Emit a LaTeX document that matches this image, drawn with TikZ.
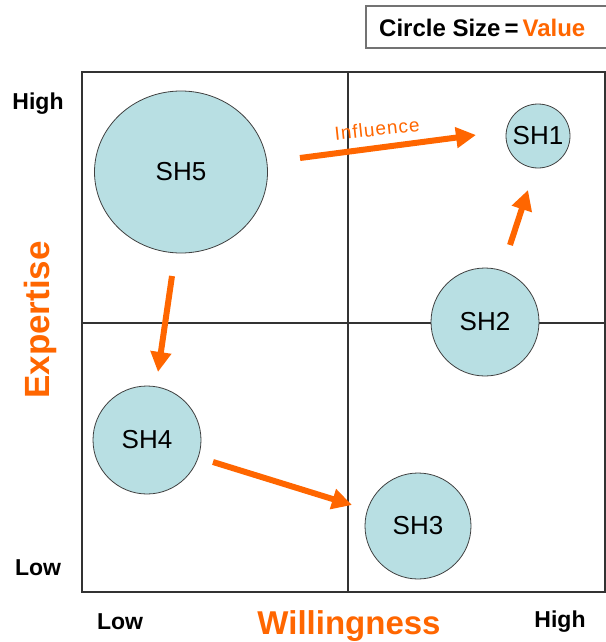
\documentclass[tikz,border=0pt]{standalone}
\usepackage{fontspec}
\setmainfont{Liberation Sans}
\usetikzlibrary{arrows.meta,shapes.geometric}
\definecolor{orng}{RGB}{255,102,0}
\definecolor{bub}{RGB}{184,223,227}
\tikzset{
  bubble/.style={circle,draw=black!75,line width=0.8pt,fill=bub,inner sep=0pt,font=\fontsize{26}{28}\selectfont},
  axislbl/.style={font=\bfseries\fontsize{23}{25}\selectfont},
  axistitle/.style={font=\bfseries\fontsize{33}{35}\selectfont,text=orng},
  arr/.style={draw=orng,line width=6pt,-{Triangle[length=20pt,width=20pt]}},
  frame/.style={draw=black!80,line width=1.2pt}
}
\begin{document}
\begin{tikzpicture}[x=1pt,y=-1pt]
\useasboundingbox (0,0) rectangle (605,642);
% frame
\draw[frame] (82,72) rectangle (605,592);
\draw[frame] (348,72) -- (348,592);
\draw[frame] (82,323) -- (605,323);
% legend
\draw[draw=black!55,line width=1.2pt,fill=white] (366,6) rectangle (610,48);
\node[anchor=west,inner sep=0pt,font=\bfseries\fontsize{24}{26}\selectfont] (legend) at (379,28) {Circle Size\,=\,\textcolor{orng}{Value}};
% bubbles
\node[bubble,ellipse,minimum width=173pt,minimum height=162pt] (sh5) at (181,172) {SH5};
\node[bubble,minimum size=64pt] (sh1) at (538,136) {SH1};
\node[bubble,minimum size=108pt] (sh2) at (485,322) {SH2};
\node[bubble,minimum size=108pt] (sh4) at (147,440) {SH4};
\node[bubble,minimum size=106pt] (sh3) at (418,526) {SH3};
% arrow ends
\coordinate (a1s) at (300,158);
\coordinate (a1e) at (476,135);
\coordinate (a2s) at (172,276);
\coordinate (a2e) at (158,372);
\coordinate (a3s) at (213,462);
\coordinate (a3e) at (352,505);
\coordinate (a4s) at (510,245);
\coordinate (a4e) at (528,190);
\draw[arr] (a1s) -- (a1e);
\draw[arr] (a2s) -- (a2e);
\draw[arr] (a3s) -- (a3e);
\draw[arr] (a4s) -- (a4e);
\node[text=orng,rotate=6,font=\fontsize{19}{21}\selectfont] (infl) at (377,129) {I\kern1pt n\kern1pt f\kern1pt l\kern1pt u\kern1pt e\kern1pt n\kern1pt c\kern1pt e};
% axis labels
\node[axislbl] (yhigh) at (38,104) {High};
\node[axislbl] (ylow) at (38,568) {Low};
\node[axislbl] (xlow) at (120,622) {Low};
\node[axislbl] (xhigh) at (560,622) {High};
\node[axistitle] (xt) at (349,626) {Willingness};
\node[axistitle,rotate=90,font=\bfseries\fontsize{35}{37}\selectfont] (yt) at (40,320) {Expertise};
\end{tikzpicture}
\end{document}
